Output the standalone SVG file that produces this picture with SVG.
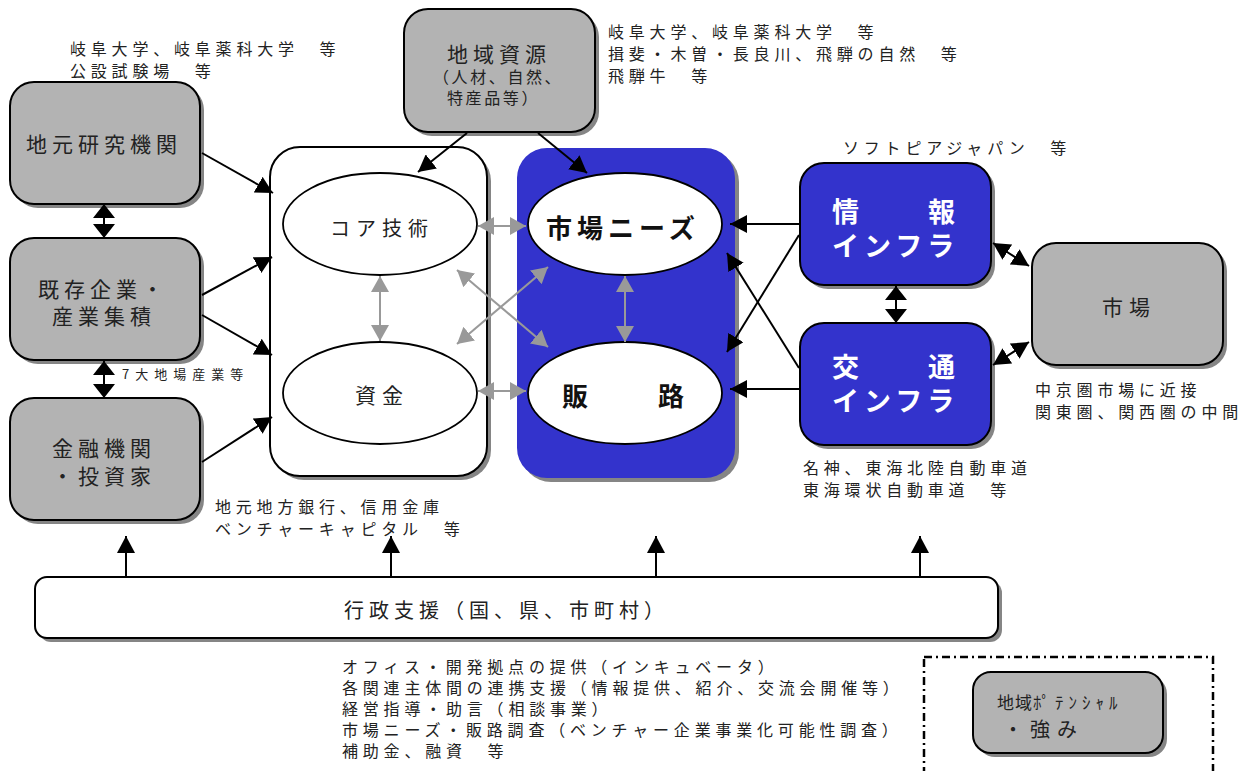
<svg xmlns="http://www.w3.org/2000/svg" width="1253" height="771" viewBox="0 0 1253 771">
<defs>
<style>
text{font-family:"Noto Sans CJK JP","Noto Sans CJK SC",sans-serif;fill:#222}
.note{font-size:16px;letter-spacing:4.8px}
.boxt{font-size:21px;letter-spacing:5px}
.wt{font-size:27px;font-weight:bold;fill:#fff;letter-spacing:5px}
.gbox{fill:#b3b3b3;stroke:#000;stroke-width:2}
.shd{fill:#858585}
.blk{stroke:#000;stroke-width:2;fill:none}
.gr{stroke:#999;stroke-width:2;fill:none}
</style>
<marker id="ah" viewBox="0 0 10 10" preserveAspectRatio="none" refX="10" refY="5" markerWidth="17" markerHeight="18" markerUnits="userSpaceOnUse" orient="auto-start-reverse"><path d="M0,0L10,5L0,10z" fill="#000"/></marker>
<marker id="ahv" viewBox="0 0 10 10" preserveAspectRatio="none" refX="10" refY="5" markerWidth="14" markerHeight="22" markerUnits="userSpaceOnUse" orient="auto-start-reverse"><path d="M0,0L10,5L0,10z" fill="#000"/></marker>
<marker id="ag" viewBox="0 0 10 10" preserveAspectRatio="none" refX="10" refY="5" markerWidth="16" markerHeight="18" markerUnits="userSpaceOnUse" orient="auto-start-reverse"><path d="M0,0L10,5L0,10z" fill="#999"/></marker>
</defs>

<!-- annotation texts -->
<g id="notes">
<text class="note" x="70" y="55">岐阜大学、岐阜薬科大学　等</text>
<text class="note" x="70" y="77">公設試験場　等</text>
<text class="note" x="608" y="38">岐阜大学、岐阜薬科大学　等</text>
<text class="note" x="608" y="60">揖斐・木曽・長良川、飛騨の自然　等</text>
<text class="note" x="608" y="82">飛騨牛　等</text>
<text class="note" x="843" y="154">ソフトピアジャパン　等</text>
<text class="note" x="1035" y="396">中京圏市場に近接</text>
<text class="note" x="1035" y="418">関東圏、関西圏の中間</text>
<text class="note" x="803" y="474">名神、東海北陸自動車道</text>
<text class="note" x="803" y="496">東海環状自動車道　等</text>
<text x="122" y="379" style="font-size:13px;letter-spacing:6px">7大地場産業等</text>
<text class="note" x="215" y="513">地元地方銀行、信用金庫</text>
<text class="note" x="215" y="535">ベンチャーキャピタル　等</text>
<text class="note" x="342" y="673">オフィス・開発拠点の提供（インキュベータ）</text>
<text class="note" x="342" y="694">各関連主体間の連携支援（情報提供、紹介、交流会開催等）</text>
<text class="note" x="342" y="715">経営指導・助言（相談事業）</text>
<text class="note" x="342" y="736">市場ニーズ・販路調査（ベンチャー企業事業化可能性調査）</text>
<text class="note" x="342" y="757">補助金、融資　等</text>
</g>

<!-- left nodes -->
<g id="n-kenkyu">
<rect class="shd" x="14" y="86" width="190" height="122" rx="24"/>
<rect class="gbox" x="10" y="82" width="190" height="122" rx="24"/>
<text class="boxt" x="26" y="152">地元研究機関</text>
</g>
<g id="n-kigyo">
<rect class="shd" x="14" y="242" width="190" height="122" rx="24"/>
<rect class="gbox" x="10" y="238" width="190" height="122" rx="24"/>
<text class="boxt" x="38" y="297">既存企業・</text>
<text class="boxt" x="52" y="324">産業集積</text>
</g>
<g id="n-kinyu">
<rect class="shd" x="14" y="402" width="190" height="122" rx="24"/>
<rect class="gbox" x="10" y="398" width="190" height="122" rx="24"/>
<text class="boxt" x="52" y="456">金融機関</text>
<text class="boxt" x="52" y="484">・投資家</text>
</g>
<g id="n-shigen">
<rect class="shd" x="408" y="13" width="191" height="123" rx="24"/>
<rect class="gbox" x="404" y="9" width="191" height="123" rx="24"/>
<text class="boxt" x="447" y="62">地域資源</text>
<text x="433" y="83" style="font-size:16px;letter-spacing:2.6px">（人材、自然、</text>
<text x="447" y="104" style="font-size:16px;letter-spacing:2.6px">特産品等）</text>
</g>

<!-- white container -->
<g id="n-white">
<rect class="shd" x="274" y="151" width="217" height="329" rx="30"/>
<rect x="270" y="147" width="217" height="329" rx="30" fill="#fff" stroke="#000" stroke-width="2"/>
</g>
<g id="n-core">
<ellipse cx="380" cy="224" rx="97" ry="51" fill="#fff" stroke="#000" stroke-width="1.8"/>
<text x="330" y="236" style="font-size:20px;letter-spacing:6px">コア技術</text>
</g>
<g id="n-shikin">
<ellipse cx="380" cy="393" rx="97" ry="51" fill="#fff" stroke="#000" stroke-width="1.8"/>
<text x="355" y="403" style="font-size:21px;letter-spacing:6px">資金</text>
</g>

<!-- blue container -->
<g id="n-blue">
<rect class="shd" x="521" y="152" width="218" height="330" rx="30"/>
<rect x="517" y="148" width="218" height="330" rx="30" fill="#3333cc"/>
</g>
<g id="n-needs">
<ellipse cx="625" cy="224" rx="97" ry="51" fill="#fff" stroke="#000" stroke-width="1.8"/>
<text x="546" y="238" style="font-size:26px;font-weight:bold;letter-spacing:5px;fill:#111">市場ニーズ</text>
</g>
<g id="n-hanro">
<ellipse cx="625" cy="393" rx="97" ry="51" fill="#fff" stroke="#000" stroke-width="1.8"/>
<text x="562" y="406" style="font-size:26px;font-weight:bold;letter-spacing:6px;fill:#111">販　　路</text>
</g>

<!-- right nodes -->
<g id="n-joho">
<rect class="shd" x="804" y="167" width="191" height="122" rx="24"/>
<rect x="800" y="163" width="191" height="122" rx="24" fill="#3333cc" stroke="#000" stroke-width="2"/>
<text class="wt" x="832" y="222">情　　報</text>
<text class="wt" x="832" y="256">インフラ</text>
</g>
<g id="n-kotsu">
<rect class="shd" x="804" y="327" width="191" height="122" rx="24"/>
<rect x="800" y="323" width="191" height="122" rx="24" fill="#3333cc" stroke="#000" stroke-width="2"/>
<text class="wt" x="832" y="377">交　　通</text>
<text class="wt" x="832" y="411">インフラ</text>
</g>
<g id="n-shijo">
<rect class="shd" x="1036" y="247" width="191" height="122" rx="24"/>
<rect class="gbox" x="1032" y="243" width="191" height="122" rx="24"/>
<text x="1102" y="315" style="font-size:21px;letter-spacing:6px">市場</text>
</g>

<!-- bottom -->
<g id="n-gyosei">
<rect class="shd" x="39" y="581" width="963" height="61" rx="12"/>
<rect x="35" y="577" width="963" height="61" rx="12" fill="#fff" stroke="#000" stroke-width="2"/>
<text x="344" y="618" style="font-size:20px;letter-spacing:5px">行政支援（国、県、市町村）</text>
</g>
<g id="legend">
<rect x="924" y="657" width="289" height="130" fill="none" stroke="#000" stroke-width="2.5" stroke-dasharray="8,4,2,4"/>
<rect class="shd" x="977" y="676" width="190" height="81" rx="18"/>
<rect class="gbox" x="973" y="672" width="190" height="81" rx="18"/>
<text x="997" y="709" style="font-size:17px;letter-spacing:1px">地域<tspan style="letter-spacing:5px">ﾎﾟﾃﾝｼｬﾙ</tspan></text>
<text x="1003" y="737" style="font-size:20px;letter-spacing:7px">・強み</text>
</g>

<!-- connectors -->
<g id="connectors">
<line class="blk" x1="202" y1="153" x2="273" y2="193" marker-end="url(#ah)"/>
<line class="blk" x1="202" y1="295" x2="272" y2="257" marker-end="url(#ah)"/>
<line class="blk" x1="202" y1="315" x2="272" y2="355" marker-end="url(#ah)"/>
<line class="blk" x1="202" y1="462" x2="272" y2="417" marker-end="url(#ah)"/>
<line class="blk" x1="104" y1="204" x2="104" y2="238" marker-start="url(#ahv)" marker-end="url(#ahv)"/>
<line class="blk" x1="104" y1="361" x2="104" y2="398" marker-start="url(#ahv)" marker-end="url(#ahv)"/>
<line class="blk" x1="467" y1="133" x2="418" y2="172" marker-end="url(#ah)"/>
<line class="blk" x1="538" y1="133" x2="587" y2="173" marker-end="url(#ah)"/>
<line class="blk" x1="800" y1="224" x2="730" y2="224" marker-end="url(#ah)"/>
<line class="blk" x1="799" y1="235" x2="727" y2="352" marker-end="url(#ah)"/>
<line class="blk" x1="799" y1="368" x2="727" y2="253" marker-end="url(#ah)"/>
<line class="blk" x1="800" y1="389" x2="730" y2="389" marker-end="url(#ah)"/>
<line class="blk" x1="896" y1="286" x2="896" y2="323" marker-start="url(#ahv)" marker-end="url(#ahv)"/>
<line class="blk" x1="993" y1="243" x2="1029" y2="266" marker-start="url(#ah)" marker-end="url(#ah)"/>
<line class="blk" x1="993" y1="365" x2="1029" y2="342" marker-start="url(#ah)" marker-end="url(#ah)"/>
<line class="gr" x1="478" y1="226" x2="526" y2="226" marker-start="url(#ag)" marker-end="url(#ag)"/>
<line class="gr" x1="478" y1="391" x2="526" y2="391" marker-start="url(#ag)" marker-end="url(#ag)"/>
<line class="gr" x1="380" y1="276" x2="380" y2="341" marker-start="url(#ag)" marker-end="url(#ag)"/>
<line class="gr" x1="625" y1="276" x2="625" y2="342" marker-start="url(#ag)" marker-end="url(#ag)"/>
<line class="gr" x1="457" y1="270" x2="548" y2="347" marker-start="url(#ag)" marker-end="url(#ag)"/>
<line class="gr" x1="548" y1="267" x2="457" y2="344" marker-start="url(#ag)" marker-end="url(#ag)"/>
<line class="blk" x1="126" y1="577" x2="126" y2="536" marker-end="url(#ah)"/>
<line class="blk" x1="391" y1="577" x2="391" y2="536" marker-end="url(#ah)"/>
<line class="blk" x1="656" y1="577" x2="656" y2="536" marker-end="url(#ah)"/>
<line class="blk" x1="920" y1="577" x2="920" y2="536" marker-end="url(#ah)"/>
</g>
</svg>
